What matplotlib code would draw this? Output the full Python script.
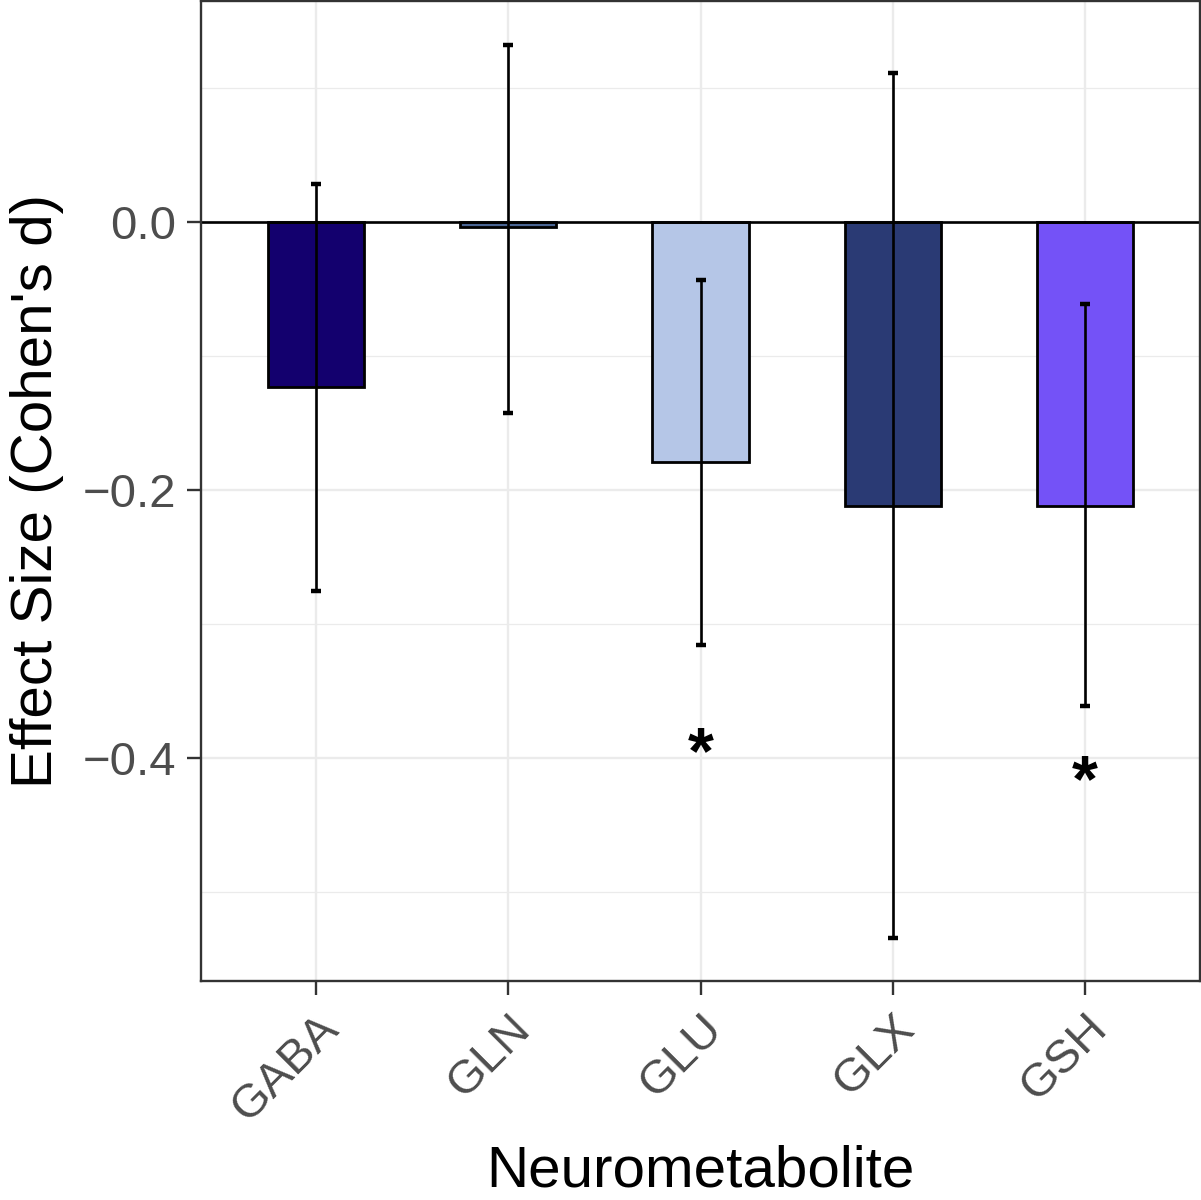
import matplotlib.pyplot as plt
from matplotlib.ticker import MultipleLocator, FuncFormatter

plt.rcParams['font.family'] = ['Liberation Sans', 'DejaVu Sans']

metabolites = ['GABA', 'GLN', 'GLU', 'GLX', 'GSH']
effect_size = [-0.123, -0.004, -0.179, -0.212, -0.212]
ci_low = [-0.275, -0.1425, -0.316, -0.534, -0.361]
ci_high = [0.028, 0.132, -0.043, 0.111, -0.061]
bar_colors = ['#13006e', '#4a6593', '#b5c6e7', '#2a3a74', '#7452f7']
sig_idx = [2, 4]
sig_y = [-0.39, -0.411]

x = list(range(len(metabolites)))
err_low = [e - lo for e, lo in zip(effect_size, ci_low)]
err_high = [hi - e for e, hi in zip(effect_size, ci_high)]

fig = plt.figure(figsize=(12.01, 12.0), dpi=100)
ax = fig.add_axes([201 / 1201, 1 - 981 / 1200, 999 / 1201, 980 / 1200])

ax.bar(x, effect_size, width=0.5, color=bar_colors, edgecolor='black',
       linewidth=2.0, zorder=2)
ax.axhline(0, color='black', lw=1.9, zorder=2.5)
ax.errorbar(x, effect_size, yerr=[err_low, err_high], fmt='none',
            ecolor='black', elinewidth=1.9, capsize=3.6, capthick=3.2, zorder=3)

# asterisks for significant effects
for i, y in zip(sig_idx, sig_y):
    ax.annotate('*', xy=(i, y), xytext=(0, -8), textcoords='offset points',
                ha='center', va='center', fontsize=48, fontweight='bold',
                zorder=4)

ax.set_xlim(-0.6, 4.6)
ax.set_ylim(-0.5664, 0.1649)
ax.yaxis.set_major_locator(MultipleLocator(0.2))
ax.yaxis.set_minor_locator(MultipleLocator(0.1))
ax.yaxis.set_major_formatter(FuncFormatter(lambda v, p: f'{v:.1f}'.replace('-', '\u2212')))
ax.set_xticks(x)
ax.set_xticklabels(metabolites)

ax.set_axisbelow(True)
ax.grid(which='major', color='#ebebeb', lw=1.7)
ax.grid(which='minor', axis='y', color='#ebebeb', lw=0.9)

for s in ax.spines.values():
    s.set_color('#333333')
    s.set_linewidth(1.7)

ax.tick_params(axis='both', which='major', length=10, width=1.7,
               color='#333333', labelsize=34, labelcolor='#4d4d4d', pad=8)
ax.tick_params(axis='y', which='minor', length=0)
plt.setp(ax.get_xticklabels(), rotation=45, ha='right', va='top',
         rotation_mode='anchor')

ax.set_xlabel('Neurometabolite', fontsize=42)
ax.set_ylabel("Effect Size (Cohen's d)", fontsize=42)
ax.xaxis.set_label_coords(0.5, -0.167)
ax.yaxis.set_label_coords(-0.137, 0.5)

fig.savefig('out.png', dpi=100)
